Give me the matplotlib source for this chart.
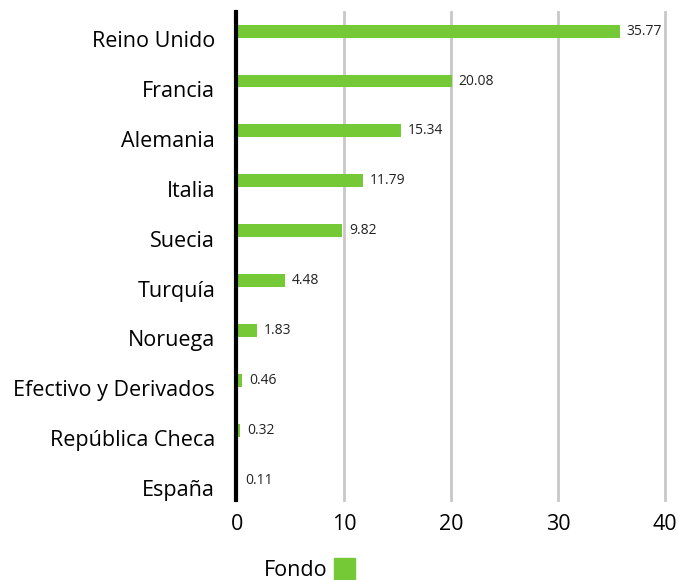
import matplotlib.pyplot as plt
from matplotlib.patches import Patch
from matplotlib.transforms import ScaledTranslation

# data
countries = ["Reino Unido", "Francia", "Alemania", "Italia", "Suecia",
             "Turquía", "Noruega", "Efectivo y Derivados",
             "República Checa", "España"]
values = [35.77, 20.08, 15.34, 11.79, 9.82, 4.48, 1.83, 0.46, 0.32, 0.11]
xticks = [0, 10, 20, 30, 40]
series_name = "Fondo"

GREEN = "#76c936"
GRID = "#c8c8c8"

plt.rcParams["font.family"] = ["Open Sans", "DejaVu Sans"]

fig = plt.figure(figsize=(6.78, 5.8), dpi=100)
ax = fig.add_axes([0.3496, 0.138, 0.6313, 0.841])

# spines first: moving a spine resets the tick labels
for s in ["top", "right", "bottom"]:
    ax.spines[s].set_visible(False)
ax.spines["left"].set_linewidth(3)
ax.spines["left"].set_color("black")
ax.spines["left"].set_position(("outward", 0.7))
ax.spines["left"].set_zorder(5)

ypos = list(range(len(countries)))
ax.barh(ypos, values, height=0.26, color=GREEN, zorder=3)

for y, v in zip(ypos, values):
    ax.annotate(f"{v:.2f}", (v, y), xytext=(5, 0), textcoords="offset points",
                va="center", ha="left", fontsize=10, color="#222222",
                zorder=4)

ax.set_xlim(0, 40)
ax.set_ylim(9.4, -0.38)
ax.set_yticks(ypos)
ax.set_yticklabels(countries, fontsize=15.5)
ax.set_xticks(xticks)
ax.set_xticklabels([str(t) for t in xticks], fontsize=15.5)
ax.tick_params(axis="y", length=0, pad=15)
ax.tick_params(axis="x", length=0, pad=10)

# category labels sit a little below the bar centre
shift = ScaledTranslation(0, -8 / 100, fig.dpi_scale_trans)
for lab in ax.get_yticklabels():
    lab.set_transform(lab.get_transform() + shift)

for t in xticks[1:]:
    ax.axvline(t, color=GRID, linewidth=2, zorder=0, clip_on=False)

fig.legend(handles=[Patch(color=GREEN, label=series_name)],
           loc="lower left", bbox_to_anchor=(0.36, -0.035),
           frameon=False, fontsize=15.5, markerfirst=False,
           handlelength=1.0, handleheight=1.2, handletextpad=0.3)

fig.savefig("out.png", dpi=100)
